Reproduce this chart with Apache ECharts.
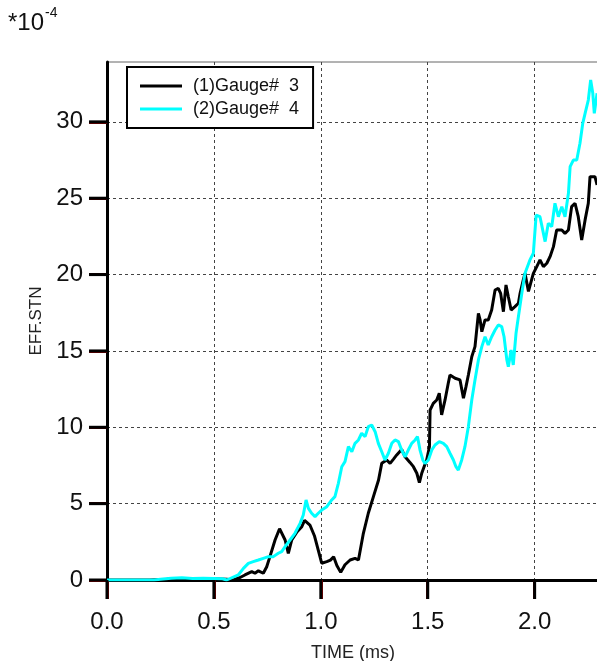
<!DOCTYPE html>
<html><head><meta charset="utf-8">
<script src="https://cdn.jsdelivr.net/npm/echarts@6/dist/echarts.min.js"></script>
<style>html,body{margin:0;padding:0;background:#fff}#c{width:597px;height:661px}</style>
</head><body><div id="c"></div>
<script>
const seriesNames = ['(1)Gauge#  3', '(2)Gauge#  4'];
const xTicks = [0, 0.5, 1.0, 1.5, 2.0];
const yTicks = [0, 5, 10, 15, 20, 25, 30];

const gauge3Time = [0.00,0.20,0.28,0.35,0.42,0.50,0.56,0.59,0.62,0.645,0.677,0.692,0.708,0.731,0.747,0.762,0.786,0.807,0.833,0.848,0.864,0.887,0.911,0.924,0.949,0.97,0.988,1.004,1.028,1.045,1.06,1.075,1.093,1.113,1.137,1.16,1.176,1.199,1.222,1.246,1.27,1.285,1.308,1.324,1.339,1.355,1.378,1.394,1.417,1.433,1.449,1.461,1.472,1.483,1.495,1.508,1.511,1.526,1.542,1.554,1.565,1.581,1.596,1.604,1.628,1.651,1.667,1.679,1.690,1.706,1.721,1.737,1.745,1.753,1.768,1.783,1.799,1.815,1.830,1.841,1.854,1.866,1.877,1.890,1.908,1.924,1.932,1.947,1.955,1.971,1.994,2.010,2.025,2.041,2.057,2.072,2.088,2.103,2.127,2.142,2.158,2.173,2.189,2.204,2.220,2.236,2.251,2.259,2.282,2.292];
const gauge3Strain = [0,0,0.05,0.1,0.08,0.08,0.05,0,0.15,0.33,0.55,0.44,0.6,0.44,0.87,1.53,2.62,3.36,2.62,1.75,2.62,3.12,3.49,3.9,3.6,2.9,1.96,1.1,1.2,1.3,1.52,0.95,0.5,1.0,1.31,1.42,1.31,3.06,4.37,5.46,6.55,7.64,7.86,7.64,7.9,8.19,8.55,8.07,7.7,7.42,6.99,6.37,6.99,7.42,7.86,8.73,11.13,11.57,11.79,12.23,10.81,11.79,12.88,13.42,13.21,13.1,11.9,12.66,13.42,14.62,15.28,17.46,17.03,16.26,17.03,17.03,17.68,18.99,19.1,18.77,17.57,19.32,18.55,17.68,17.9,18.12,18.77,19.65,20.08,18.9,20.08,20.52,20.96,20.52,20.74,21.17,21.83,22.92,22.92,22.7,22.92,24.45,24.67,23.79,22.27,23.58,24.67,26.41,26.41,25.87];

const gauge4Time = [0.00,0.22,0.25,0.30,0.35,0.40,0.45,0.50,0.54,0.56,0.614,0.638,0.661,0.684,0.708,0.731,0.755,0.778,0.801,0.817,0.833,0.856,0.879,0.903,0.918,0.931,0.942,0.957,0.973,0.988,1.004,1.028,1.051,1.066,1.082,1.098,1.113,1.129,1.145,1.160,1.176,1.191,1.207,1.222,1.238,1.254,1.269,1.285,1.300,1.316,1.332,1.347,1.363,1.378,1.394,1.409,1.425,1.441,1.452,1.464,1.477,1.487,1.503,1.519,1.534,1.554,1.573,1.589,1.604,1.620,1.632,1.643,1.659,1.674,1.690,1.706,1.721,1.737,1.753,1.768,1.783,1.799,1.815,1.830,1.846,1.857,1.870,1.877,1.890,1.900,1.913,1.924,1.940,1.955,1.978,1.994,2.007,2.025,2.041,2.049,2.064,2.080,2.095,2.111,2.127,2.142,2.158,2.166,2.181,2.197,2.212,2.225,2.236,2.251,2.262,2.272,2.279,2.292];
const gauge4Strain = [0,0,0.05,0.12,0.15,0.1,0.12,0.1,0.08,0,0.33,0.76,1.09,1.2,1.31,1.42,1.53,1.53,1.75,1.86,2.18,2.62,3.06,3.71,4.26,5.24,4.69,4.37,4.15,4.37,4.58,4.8,5.24,5.46,6.33,7.42,7.75,8.73,8.4,8.95,9.17,9.61,9.39,10.04,10.15,9.71,8.95,8.4,7.86,8.3,8.95,9.17,9.06,8.51,8.07,8.51,8.95,9.17,9.39,8.51,7.86,7.64,7.86,8.51,8.84,9.06,8.95,8.73,8.3,7.86,7.42,7.2,7.86,8.73,10.04,11.79,13.1,14.41,15.28,15.93,15.39,15.93,16.37,16.7,16.59,15.93,14.41,13.97,15.06,14.08,16.16,17.24,18.77,20.08,20.96,21.4,23.9,23.79,22.7,22.16,23.36,23.14,24.67,23.79,24.45,23.79,25.32,27.07,27.5,27.5,28.6,29.9,30.56,31.43,32.74,31.87,30.56,31.87];

const FONT = '"Liberation Sans", Arial, Helvetica, sans-serif';
const TICK_COLOR = '#800000';
// tick marks: [x, y, kind] kind 0 = x-axis tick, 1 = y-axis tick
const tickMarks = xTicks.map(v => [v, 0, 0]).concat(yTicks.map(v => [0, v, 1]));

const chart = echarts.init(document.getElementById('c'), null, {renderer: 'canvas'});
chart.setOption({
  animation: false,
  backgroundColor: '#fff',
  grid: {left: 107, right: -2, top: 62, bottom: 81, outerBoundsMode: 'none', containLabel: false,
         show: true, borderColor: '#666', borderWidth: 1, backgroundColor: 'transparent'},
  graphic: [
    {type: 'text', left: 8, top: 11, style: {text: '*10', font: '24px ' + FONT, fill: '#111'}},
    {type: 'text', left: 45, top: 6, style: {text: '-4', font: '14px ' + FONT, fill: '#111'}}
  ],
  legend: {
    left: 127, top: 67, orient: 'vertical', padding: [9, 14, 9, 13], itemGap: 3,
    icon: 'rect', itemWidth: 42, itemHeight: 3, backgroundColor: '#fff', borderColor: '#000', borderWidth: 2,
    textStyle: {fontSize: 18, fontFamily: FONT, color: '#111', padding: [0, 0, 0, 6], lineHeight: 20},
    data: seriesNames
  },
  xAxis: {
    type: 'value', min: 0, max: 2.301, interval: 0.5,
    name: 'TIME (ms)', nameLocation: 'middle', nameGap: 64,
    nameTextStyle: {fontSize: 18, color: '#222', fontFamily: FONT},
    axisLine: {show: true, onZero: false, lineStyle: {color: '#000', width: 3}},
    axisTick: {show: true, inside: false, length: 19, lineStyle: {color: TICK_COLOR, width: 3}},
    axisLabel: {fontSize: 24, color: '#111', fontFamily: FONT, margin: 30, showMaxLabel: false, formatter: v => v.toFixed(1)},
    splitLine: {show: true, lineStyle: {color: '#444', width: 1, type: [3, 3]}}
  },
  yAxis: {
    type: 'value', min: 0, max: 33.92,
    name: 'EFF.STN', nameLocation: 'middle', nameGap: 62,
    nameTextStyle: {fontSize: 17, color: '#222', fontFamily: FONT},
    axisLine: {show: true, onZero: false, lineStyle: {color: '#000', width: 3}},
    axisTick: {show: true, inside: false, length: 18, lineStyle: {color: TICK_COLOR, width: 3}, customValues: yTicks},
    axisLabel: {fontSize: 24, color: '#111', fontFamily: FONT, margin: 24, customValues: yTicks},
    splitLine: {show: true, lineStyle: {color: '#444', width: 1, type: [3, 3]}}
  },
  series: [
    {name: seriesNames[0], type: 'line', symbol: 'none', z: 2,
     data: gauge3Time.map((t, i) => [t, gauge3Strain[i]]),
     lineStyle: {color: '#000', width: 3}, itemStyle: {color: '#000'}},
    {name: seriesNames[1], type: 'line', symbol: 'none', z: 3,
     data: gauge4Time.map((t, i) => [t, gauge4Strain[i]]),
     lineStyle: {color: '#00ffff', width: 3}, itemStyle: {color: '#00ffff'}},
    {name: 'axisTicks', type: 'custom', silent: true, clip: false, z: 20,
     data: tickMarks,
     renderItem: function (params, api) {
       const p = api.coord([api.value(0), api.value(1)]);
       const isY = api.value(2) === 1;
       const shape = isY
         ? {x1: p[0] - 18, y1: p[1], x2: p[0], y2: p[1]}
         : {x1: p[0], y1: p[1], x2: p[0], y2: p[1] + 19};
       return {type: 'line', shape: shape, style: {stroke: '#000', lineWidth: 3}};
     }}
  ]
});
</script></body></html>
